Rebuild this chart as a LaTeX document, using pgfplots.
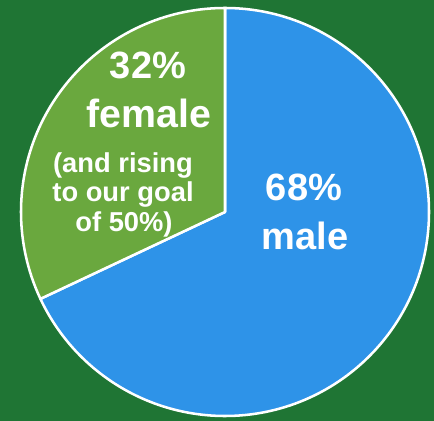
\documentclass[border=0pt]{standalone}
\usepackage{pgfplots}
\usepackage{pgfplotstable}
\usepackage{fontspec}
\usetikzlibrary{backgrounds}
\pgfplotsset{compat=1.18}
\setmainfont{Liberation Sans}

\definecolor{bgGreen}{HTML}{1F7534}
\definecolor{sliceGreen}{HTML}{6AA83E}
\definecolor{sliceBlue}{HTML}{2E93E8}

% share of each group, in percent
\pgfplotstableread{
label  value
female 32
male   68
}\slices

\begin{document}
\begin{tikzpicture}
\pgfplotstablegetelem{0}{value}\of\slices
\pgfmathsetmacro{\femaleEnd}{90+3.6*\pgfplotsretval}
\pgfplotstablegetelem{1}{value}\of\slices
\pgfmathsetmacro{\maleEnd}{90-3.6*\pgfplotsretval}
\begin{axis}[
    x=0.75pt, y=0.75pt,
    xmin=0, xmax=434, ymin=0, ymax=420,
    scale only axis,
    hide axis,
    clip=true
    ]
\coordinate (bl) at (rel axis cs:0,0);
\coordinate (tr) at (rel axis cs:1,1);

\filldraw[fill=sliceBlue, draw=white, line width=1.9pt, line join=round]
    (axis cs:225,208) -- (axis cs:225,412) arc[start angle=90, end angle=\maleEnd, radius=153pt] -- cycle;
\filldraw[fill=sliceGreen, draw=white, line width=1.9pt, line join=round]
    (axis cs:225,208) -- (axis cs:225,412) arc[start angle=90, end angle=\femaleEnd, radius=153pt] -- cycle;

\begin{scope}[every node/.style={text=white, anchor=base, inner sep=0pt}]
\node[font=\fontsize{28.5}{30}\selectfont\bfseries] at (axis cs:148,341) {32\%};
\node[font=\fontsize{29.5}{30}\selectfont\bfseries] at (axis cs:149,292) {female};
\node[font=\fontsize{20.5}{24}\selectfont\bfseries] at (axis cs:123,247) {(and rising};
\node[font=\fontsize{20.5}{24}\selectfont\bfseries] at (axis cs:123,218) {to our goal};
\node[font=\fontsize{20.5}{24}\selectfont\bfseries] at (axis cs:124,188) {of 50\%)};
\node[font=\fontsize{28.5}{30}\selectfont\bfseries] at (axis cs:304,219) {68\%};
\node[font=\fontsize{28.5}{30}\selectfont\bfseries] at (axis cs:305,170) {male};
\end{scope}
\end{axis}
\begin{scope}[on background layer]
\fill[bgGreen] ([shift={(-6pt,-6pt)}]bl) rectangle ([shift={(6pt,6pt)}]tr);
\end{scope}
\pgfresetboundingbox
\useasboundingbox (bl) rectangle (tr);
\end{tikzpicture}
\end{document}
